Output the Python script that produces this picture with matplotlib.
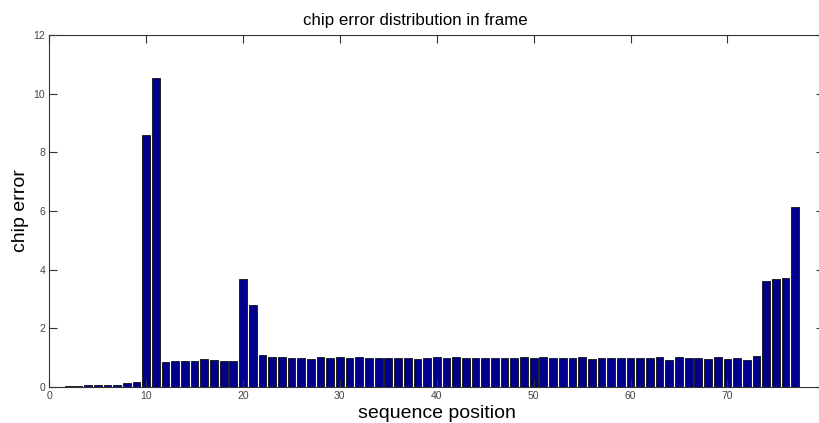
import matplotlib
matplotlib.use("Agg")
import matplotlib.pyplot as plt

# posiciones de la secuencia y error por chip
posiciones = list(range(1, 78))
error_chip = [
    0.005, 0.02, 0.04, 0.06, 0.06, 0.08, 0.08, 0.12, 0.17, 8.6,
    10.55, 0.85, 0.88, 0.88, 0.90, 0.95, 0.93, 0.90, 0.90, 3.68,
    2.80, 1.10, 1.02, 1.02, 0.98, 1.00, 0.94, 1.02, 0.98, 1.02,
    1.00, 1.02, 1.00, 1.00, 0.98, 1.00, 0.98, 0.95, 1.00, 1.02,
    0.98, 1.02, 1.00, 1.00, 1.00, 1.00, 1.00, 1.00, 1.02, 0.98,
    1.02, 1.00, 1.00, 1.00, 1.02, 0.95, 1.00, 1.00, 1.00, 1.00,
    0.98, 1.00, 1.02, 0.92, 1.02, 1.00, 0.98, 0.95, 1.02, 0.95,
    1.00, 0.92, 1.05, 3.62, 3.67, 3.70, 6.13,
]
xticks = [0, 10, 20, 30, 40, 50, 60, 70, 80]
yticks = [0, 2, 4, 6, 8, 10, 12]

plt.rcParams['font.family'] = ['Liberation Sans', 'DejaVu Sans']

fig = plt.figure(figsize=(8.2, 4.23), dpi=100)
# el eje se sale un poco por la derecha, como en la original
ax = fig.add_axes([0.0601, 0.0851, 0.9451, 0.8322])

ax.bar(posiciones, error_chip, width=0.8, color='#00008C', edgecolor='#111111', linewidth=0.6)

ax.set_xlim(0, 80)
ax.set_ylim(0, 12)
ax.set_xticks(xticks)
ax.set_yticks(yticks)
ax.tick_params(direction='in', top=True, right=True, labelsize=7.5, labelcolor='#444444',
               color='#333333', length=5.5, width=0.8, pad=3)
for s in ax.spines.values():
    s.set_color('#333333')
    s.set_linewidth(0.8)

ax.set_title('chip error distribution in frame', fontsize=12.2, pad=7, x=0.473)
ax.set_xlabel('sequence position', fontsize=14, labelpad=2.5)
ax.set_ylabel('chip error', fontsize=14, labelpad=3)

plt.savefig('out.png', dpi=100)
